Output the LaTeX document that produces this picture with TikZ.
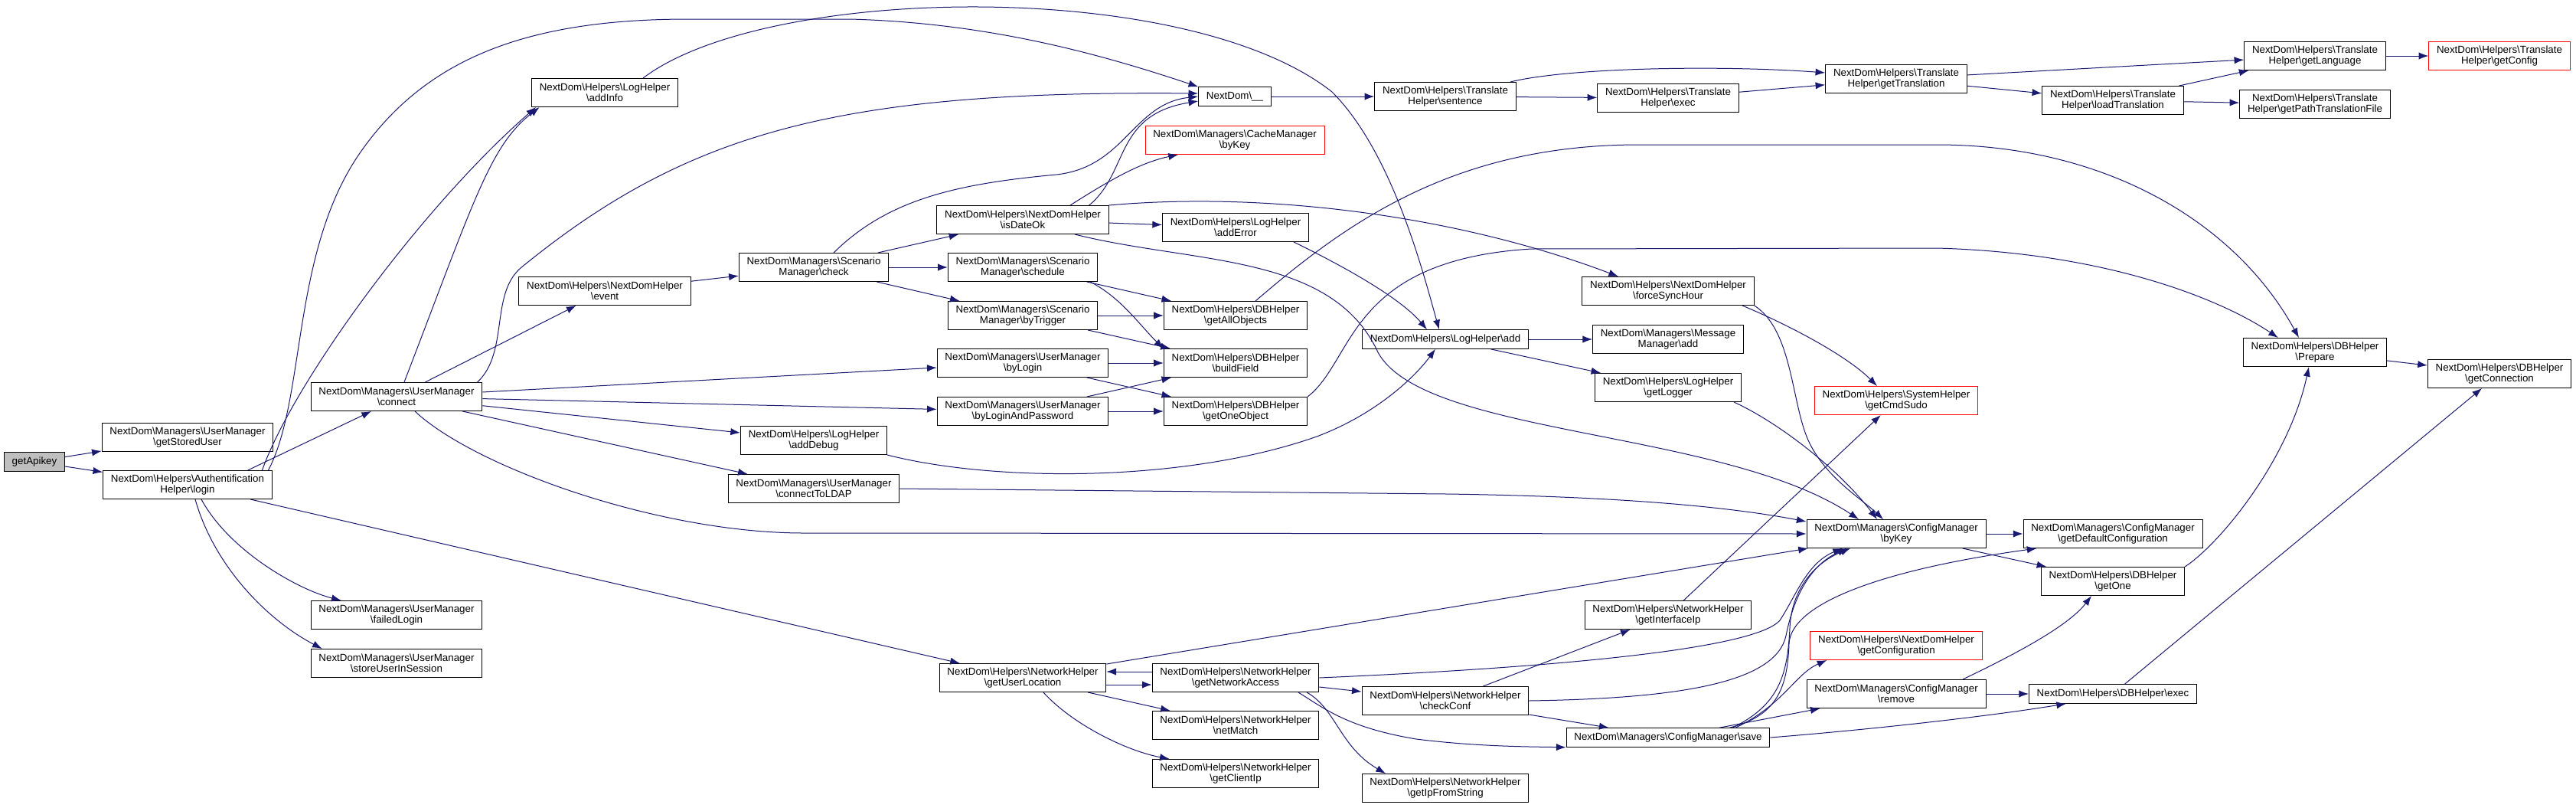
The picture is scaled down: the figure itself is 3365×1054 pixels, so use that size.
\documentclass[tikz,border=0pt]{standalone}
\usepackage{fontspec}
\setmainfont{Liberation Sans}
\usepackage{tikz}
\usetikzlibrary{arrows.meta,positioning}
\definecolor{edgeblue}{RGB}{25,25,112}
\definecolor{rootgray}{RGB}{191,191,191}
\definecolor{truncred}{RGB}{255,0,0}
\newcommand{\bsl}{\textbackslash}

\begin{document}
\begin{tikzpicture}[
  x=0.75pt, y=-0.75pt, on grid,
  fn/.style={rectangle, draw=black, fill=white, line width=0.75pt, align=center,
    font=\fontsize{10}{10.2}\selectfont, inner xsep=7.7pt, inner ysep=1pt, minimum height=27.75pt},
  fnone/.style={fn, minimum height=18.4pt},
  trunc/.style={fn, draw=truncred},
  root/.style={fnone, fill=rootgray},
  arr/.style={-{Latex[length=9.5pt,width=7pt]}, draw=edgeblue, line width=0.75pt}
]
\useasboundingbox (0,0) rectangle (3365,1054);

\node[root] (getapikey) at (45,603) {getApikey};
\node[fn, above right=24pt and 150pt of getapikey] (storeduser) {NextDom\bsl Managers\bsl UserManager\\\bsl getStoredUser};
\node[fn, below=46.5pt of storeduser] (login) {NextDom\bsl Helpers\bsl Authentification\\Helper\bsl login};
\node[fn, above right=86.25pt and 204.75pt of login] (connect) {NextDom\bsl Managers\bsl UserManager\\\bsl connect};
\node[fn, below=213.75pt of connect] (failedlogin) {NextDom\bsl Managers\bsl UserManager\\\bsl failedLogin};
\node[fn, below=47.25pt of failedlogin] (storeuser) {NextDom\bsl Managers\bsl UserManager\\\bsl storeUserInSession};
\node[fn, above right=297.75pt and 204pt of connect] (addinfo) {NextDom\bsl Helpers\bsl LogHelper\\\bsl addInfo};
\node[fn, below=194.25pt of addinfo] (event) {NextDom\bsl Helpers\bsl NextDomHelper\\\bsl event};
\node[fn, above right=23.25pt and 204.75pt of event] (check) {NextDom\bsl Managers\bsl Scenario\\Manager\bsl check};
\node[fn, below=169.5pt of check] (adddebug) {NextDom\bsl Helpers\bsl LogHelper\\\bsl addDebug};
\node[fn, below=47.25pt of adddebug] (connectldap) {NextDom\bsl Managers\bsl UserManager\\\bsl connectToLDAP};
\node[fn, above right=46.5pt and 204.75pt of check] (isdateok) {NextDom\bsl Helpers\bsl NextDomHelper\\\bsl isDateOk};
\node[fn, right=204.75pt of check] (schedule) {NextDom\bsl Managers\bsl Scenario\\Manager\bsl schedule};
\node[fn, below=47.25pt of schedule] (bytrigger) {NextDom\bsl Managers\bsl Scenario\\Manager\bsl byTrigger};
\node[fn, below=46.5pt of bytrigger] (bylogin) {NextDom\bsl Managers\bsl UserManager\\\bsl byLogin};
\node[fn, below=47.25pt of bylogin] (byloginpw) {NextDom\bsl Managers\bsl UserManager\\\bsl byLoginAndPassword};
\node[fn, below=261pt of byloginpw] (userlocation) {NextDom\bsl Helpers\bsl NetworkHelper\\\bsl getUserLocation};
\node[fnone, above right=120.75pt and 207.75pt of isdateok] (nextdom) {NextDom\bsl\_\_};
\node[trunc, below=42.75pt of nextdom] (cachebykey) {NextDom\bsl Managers\bsl CacheManager\\\bsl byKey};
\node[fn, below right=7.5pt and 208.5pt of isdateok] (adderror) {NextDom\bsl Helpers\bsl LogHelper\\\bsl addError};
\node[fn, right=208.5pt of bytrigger] (getallobjects) {NextDom\bsl Helpers\bsl DBHelper\\\bsl getAllObjects};
\node[fn, right=208.5pt of bylogin] (buildfield) {NextDom\bsl Helpers\bsl DBHelper\\\bsl buildField};
\node[fn, right=208.5pt of byloginpw] (getoneobject) {NextDom\bsl Helpers\bsl DBHelper\\\bsl getOneObject};
\node[fn, right=208.5pt of userlocation] (networkaccess) {NextDom\bsl Helpers\bsl NetworkHelper\\\bsl getNetworkAccess};
\node[fn, below=46.5pt of networkaccess] (netmatch) {NextDom\bsl Helpers\bsl NetworkHelper\\\bsl netMatch};
\node[fn, below=47.25pt of netmatch] (clientip) {NextDom\bsl Helpers\bsl NetworkHelper\\\bsl getClientIp};
\node[fn, right=206.25pt of nextdom] (sentence) {NextDom\bsl Helpers\bsl Translate\\Helper\bsl sentence};
\node[fnone, below right=23.25pt and 205.5pt of getallobjects] (logadd) {NextDom\bsl Helpers\bsl LogHelper\bsl add};
\node[fn, below right=22.5pt and 205.5pt of networkaccess] (checkconf) {NextDom\bsl Helpers\bsl NetworkHelper\\\bsl checkConf};
\node[fn, below=85.5pt of checkconf] (ipfromstring) {NextDom\bsl Helpers\bsl NetworkHelper\\\bsl getIpFromString};
\node[fn, below right=1.5pt and 218.25pt of sentence] (transexec) {NextDom\bsl Helpers\bsl Translate\\Helper\bsl exec};
\node[fn, above right=47.25pt and 218.25pt of logadd] (forcesync) {NextDom\bsl Helpers\bsl NextDomHelper\\\bsl forceSyncHour};
\node[fn, right=218.25pt of logadd] (messageadd) {NextDom\bsl Managers\bsl Message\\Manager\bsl add};
\node[fn, below=47.25pt of messageadd] (getlogger) {NextDom\bsl Helpers\bsl LogHelper\\\bsl getLogger};
\node[fn, above right=84pt and 218.25pt of checkconf] (interfaceip) {NextDom\bsl Helpers\bsl NetworkHelper\\\bsl getInterfaceIp};
\node[fnone, below right=36pt and 218.25pt of checkconf] (save) {NextDom\bsl Managers\bsl ConfigManager\bsl save};
\node[fn, above right=18.75pt and 223.5pt of transexec] (gettranslation) {NextDom\bsl Helpers\bsl Translate\\Helper\bsl getTranslation};
\node[trunc, below right=12.75pt and 223.5pt of getlogger] (cmdsudo) {NextDom\bsl Helpers\bsl SystemHelper\\\bsl getCmdSudo};
\node[fn, below=130.5pt of cmdsudo] (configbykey) {NextDom\bsl Managers\bsl ConfigManager\\\bsl byKey};
\node[trunc, below right=30pt and 223.5pt of interfaceip] (getconfiguration) {NextDom\bsl Helpers\bsl NextDomHelper\\\bsl getConfiguration};
\node[fn, below=47.25pt of getconfiguration] (remove) {NextDom\bsl Managers\bsl ConfigManager\\\bsl remove};
\node[fn, below right=21pt and 212.25pt of gettranslation] (loadtranslation) {NextDom\bsl Helpers\bsl Translate\\Helper\bsl loadTranslation};
\node[fn, right=212.25pt of configbykey] (defaultconfig) {NextDom\bsl Managers\bsl ConfigManager\\\bsl getDefaultConfiguration};
\node[fn, below=46.5pt of defaultconfig] (getone) {NextDom\bsl Helpers\bsl DBHelper\\\bsl getOne};
\node[fnone, right=212.25pt of remove] (dbexec) {NextDom\bsl Helpers\bsl DBHelper\bsl exec};
\node[fn, above right=43.5pt and 198pt of loadtranslation] (getlanguage) {NextDom\bsl Helpers\bsl Translate\\Helper\bsl getLanguage};
\node[fn, below right=3.75pt and 198pt of loadtranslation] (pathfile) {NextDom\bsl Helpers\bsl Translate\\Helper\bsl getPathTranslationFile};
\node[fn, below=243pt of pathfile] (prepare) {NextDom\bsl Helpers\bsl DBHelper\\\bsl Prepare};
\node[trunc, right=180.75pt of getlanguage] (getconfig) {NextDom\bsl Helpers\bsl Translate\\Helper\bsl getConfig};
\node[fn, below right=21pt and 180.75pt of prepare] (getconnection) {NextDom\bsl Helpers\bsl DBHelper\\\bsl getConnection};

\draw[arr] (getapikey) -- (storeduser);
\draw[arr] (getapikey) -- (login);
\draw[arr] ([xshift=59pt]login.north) -- ([xshift=-24.75pt]connect.south);
\draw[arr] ([xshift=-10pt]login.north east) .. controls (383,500) and (550,271) .. ([xshift=4.5pt]addinfo.south west);
\draw[arr] ([xshift=-4pt]login.north east) .. controls (400,520) and (380,330) .. (470,200)
  .. controls (560,70) and (700,25) .. (900,25) -- (1110,25) .. controls (1300,30) and (1450,75) .. (nextdom.north west);
\draw[arr] ([xshift=13.5pt]login.south) .. controls (300,720) and (390,770) .. ([xshift=30pt]failedlogin.north west);
\draw[arr] ([xshift=7.5pt]login.south) .. controls (280,740) and (350,810) .. ([xshift=11.25pt]storeuser.north west);
\draw[arr] (login) -- (userlocation);

\draw[arr] ([xshift=7.5pt]connect.north) .. controls (620,260) and (640,190) .. ([xshift=8pt]addinfo.south west);
\draw[arr] (connect) -- (event);
\draw[arr] ([xshift=-5pt]connect.north east) .. controls (665,460) and (640,385) .. (680,350)
  .. controls (900,170) and (1100,118) .. ([yshift=3pt]nextdom.west);
\draw[arr] (connect) -- (bylogin);
\draw[arr] (connect) -- (byloginpw);
\draw[arr] (connect) -- (adddebug);
\draw[arr] (connect) -- (connectldap);
\draw[arr] ([xshift=18pt]connect.south) .. controls (620,610) and (860,696) .. (1050,696) -- (configbykey.west);

\draw[arr] ([xshift=37.5pt]addinfo.north) .. controls (1000,-20) and (1550,-30) .. (1740,120)
  .. controls (1820,200) and (1860,360) .. ([xshift=-6pt]logadd.north);
\draw[arr] (event) -- (check);
\draw[arr] ([xshift=19.5pt]check.north) .. controls (1160,260) and (1250,240) .. (1380,228)
  .. controls (1470,218) and (1480,135) .. (nextdom.west);
\draw[arr] (check) -- (isdateok);
\draw[arr] (check) -- (schedule);
\draw[arr] (check) -- (bytrigger);
\draw[arr] (adddebug.south east) .. controls (1300,630) and (1550,630) .. (1720,570)
  .. controls (1800,540) and (1850,490) .. ([xshift=-9.75pt]logadd.south);
\draw[arr] (connectldap.east) -- (1890,645) .. controls (2100,648) and (2250,660) .. ([yshift=-2.25pt]configbykey.north west);

\draw[arr] ([xshift=65pt]isdateok.north) .. controls (1475,225) and (1455,150) .. ([yshift=-4.5pt]nextdom.west);
\draw[arr] ([xshift=46.5pt]isdateok.north) .. controls (1450,235) and (1490,212) .. ([xshift=-55.5pt]cachebykey.south);
\draw[arr] (isdateok) -- (adderror);
\draw[arr] (isdateok.north east) .. controls (1650,250) and (1900,280) .. ([xshift=-48.75pt]forcesync.north);
\draw[arr] ([xshift=51pt]isdateok.south) .. controls (1560,345) and (1740,330) .. (1800,460)
  .. controls (1860,570) and (2250,560) .. ([xshift=-36.75pt]configbykey.north);
\draw[arr] (schedule) -- (getallobjects);
\draw[arr] ([xshift=66pt]schedule.south) .. controls (1464,388) and (1490,426) .. (buildfield.north west);
\draw[arr] (bytrigger) -- (getallobjects);
\draw[arr] (bytrigger) -- (buildfield);
\draw[arr] (bylogin) -- (buildfield);
\draw[arr] (bylogin) -- (getoneobject);
\draw[arr] (byloginpw) -- (buildfield);
\draw[arr] (byloginpw) -- (getoneobject);
\draw[arr] ([yshift=6pt]networkaccess.west) -- ([yshift=6pt]userlocation.east);
\draw[arr] ([yshift=-6.75pt]userlocation.east) -- ([yshift=-6.75pt]networkaccess.west);
\draw[arr] (userlocation) -- (netmatch);
\draw[arr] ([xshift=20.25pt]userlocation.south) .. controls (1400,945) and (1470,980) .. ([xshift=17.25pt]clientip.north west);
\draw[arr] (userlocation) -- (configbykey);

\draw[arr] (nextdom) -- (sentence);
\draw[arr] ([xshift=-15pt]adderror.south east) .. controls (1760,350) and (1830,390) .. ([xshift=-18pt]logadd.north);
\draw[arr] ([xshift=19.5pt]getallobjects.north) .. controls (1760,290) and (1900,189) .. (2141,189) -- (2530,189)
  .. controls (2750,189) and (2920,290) .. ([xshift=-15.75pt]prepare.north);
\draw[arr] (getoneobject.north east) .. controls (1770,470) and (1760,340) .. (2000,325) -- (2530,324)
  .. controls (2750,330) and (2900,390) .. ([xshift=34.5pt]prepare.north west);
\draw[arr] (networkaccess.east) .. controls (2000,873) and (2290,850) .. (2325,810)
  .. controls (2345,780) and (2360,735) .. ([xshift=-52.5pt]configbykey.south);
\draw[arr] (networkaccess) -- (checkconf);
\draw[arr] ([xshift=61.5pt]networkaccess.south) .. controls (1730,925) and (1760,950) .. (1850,965)
  .. controls (1930,975) and (2000,975) .. (save.south west);
\draw[arr] ([xshift=69.75pt]networkaccess.south) .. controls (1745,925) and (1750,975) .. ([xshift=-58.5pt]ipfromstring.north);

\draw[arr] (sentence) -- (transexec);
\draw[arr] ([xshift=-6pt]sentence.north east) .. controls (2050,88) and (2250,85) .. ([yshift=6pt]gettranslation.west);
\draw[arr] (logadd) -- (messageadd);
\draw[arr] (logadd) -- (getlogger);
\draw[arr] (checkconf) -- (interfaceip);
\draw[arr] (checkconf.east) .. controls (2200,912) and (2320,890) .. (2333,830)
  .. controls (2345,770) and (2370,735) .. ([xshift=-48pt]configbykey.south);
\draw[arr] (checkconf) -- (save);

\draw[arr] (transexec) -- (gettranslation);
\draw[arr] ([xshift=72.75pt]forcesync.south) .. controls +(60,25) and +(-40,-40) .. ([xshift=-18.75pt]cmdsudo.north);
\draw[arr] (forcesync.south east) .. controls (2340,430) and (2340,520) .. (2360,570)
  .. controls (2380,620) and (2430,650) .. ([xshift=-12.75pt]configbykey.north);
\draw[arr] ([xshift=-7.5pt]getlogger.south east) .. controls (2320,550) and (2400,610) .. ([xshift=-18.75pt]configbykey.north);
\draw[arr] (interfaceip) -- (cmdsudo);
\draw[arr] ([xshift=63pt]save.north) .. controls (2325,920) and (2335,880) .. (2338,820)
  .. controls (2340,770) and (2370,735) .. ([xshift=-45pt]configbykey.south);
\draw[arr] ([xshift=66pt]save.north) .. controls (2330,920) and (2345,880) .. ([xshift=16.5pt]getconfiguration.south west);
\draw[arr] ([xshift=60pt]save.north) .. controls (2320,935) and (2335,900) .. (2337,840)
  .. controls (2340,790) and (2450,745) .. ([xshift=13.5pt]defaultconfig.south west);
\draw[arr] (save) -- (remove);
\draw[arr] (save.east) .. controls (2450,952) and (2600,935) .. ([xshift=-45.75pt]dbexec.south);

\draw[arr] (gettranslation) -- (getlanguage);
\draw[arr] (gettranslation) -- (loadtranslation);
\draw[arr] (configbykey) -- (defaultconfig);
\draw[arr] (configbykey) -- (getone);
\draw[arr] ([xshift=65.25pt]remove.north) .. controls (2620,860) and (2700,820) .. ([xshift=-21pt]getone.south);
\draw[arr] (remove) -- (dbexec);

\draw[arr] (loadtranslation) -- (getlanguage);
\draw[arr] (loadtranslation) -- (pathfile);
\draw[arr] (getone.north east) .. controls (2900,710) and (2990,600) .. ([xshift=-6pt]prepare.south);
\draw[arr] (dbexec) -- (getconnection);
\draw[arr] (getlanguage) -- (getconfig);
\draw[arr] (prepare) -- (getconnection);
\end{tikzpicture}
\end{document}
